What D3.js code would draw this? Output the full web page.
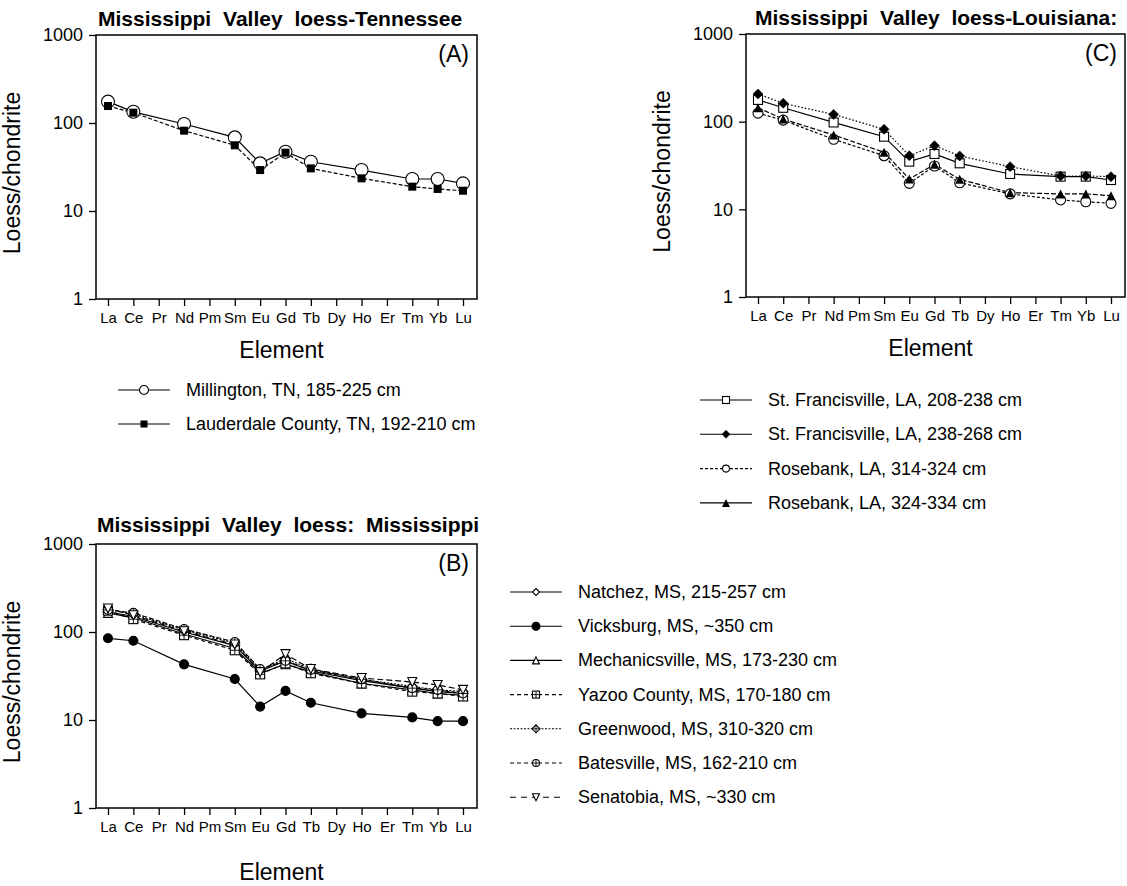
<!DOCTYPE html>
<html>
<head>
<meta charset="utf-8">
<script src="https://cdn.jsdelivr.net/npm/d3@7"></script>
<style>
  html, body { margin: 0; padding: 0; background: #fff; }
  svg { display: block; font-family: "Liberation Sans", Arial, Helvetica, sans-serif; }
</style>
</head>
<body>
<svg id="chart" width="1127" height="886"></svg>
<script>
// ---------------- DATA ----------------
const elements = ["La","Ce","Pr","Nd","Pm","Sm","Eu","Gd","Tb","Dy","Ho","Er","Tm","Yb","Lu"];
const measured = ["La","Ce","Nd","Sm","Eu","Gd","Tb","Ho","Tm","Yb","Lu"];
const yTickValues = [1, 10, 100, 1000];

// Panel A – Tennessee
const millington  = [175, 134, 97.5, 68.7, 34.8, 47.2, 36.3, 29.2, 23.1, 23.1, 20.6];
const lauderdale  = [156, 131, 81.8, 55.8, 29.2, 46.0, 30.5, 23.5, 18.9, 17.8, 17.0];

// Panel C – Louisiana
const stFrancisville208 = [177, 144, 98, 67.4, 35.0, 42.8, 33.5, 25.3, 23.6, 23.6, 21.6];
const stFrancisville238 = [207, 162, 121, 81.8, 40.9, 53.2, 40.6, 30.7, 24.0, 24.0, 23.6];
const rosebank314       = [125, 104, 62.9, 40.9, 19.8, 31.2, 20.1, 15.0, 12.8, 12.2, 11.7];
const rosebank324       = [144, 107, 70.4, 44.7, 22.2, 32.6, 22.0, 15.5, 15.0, 15.0, 14.3];

// Panel B – Mississippi
const natchez        = [170, 150, 100, 70, 36, 47, 36, 28, 23, 21, 20];
const vicksburg      = [84.8, 79.6, 42.9, 29.2, 14.2, 21.4, 15.7, 11.9, 10.7, 9.7, 9.7];
const mechanicsville = [165, 145, 95, 65, 34, 43, 35, 26, 22, 20, 19];
const yazoo          = [175, 140, 92, 62, 33, 44, 34, 26, 21, 20, 18.5];
const greenwood      = [180, 160, 105, 75, 37, 50, 38, 29, 24, 22, 21];
const batesville     = [178, 165, 108, 77, 38, 47, 37, 29, 23, 22, 20];
const senatobia      = [185, 155, 102, 72, 35, 56, 38, 30, 27, 25, 22];

const titles = ["Mississippi Valley loess-Tennessee", "Mississippi Valley loess-Louisiana:", "Mississippi Valley loess: Mississippi"];
const panelTags = ["(A)", "(C)", "(B)"];
const labelsA = ["Millington, TN, 185-225 cm", "Lauderdale County, TN, 192-210 cm"];
const labelsC = ["St. Francisville, LA, 208-238 cm", "St. Francisville, LA, 238-268 cm", "Rosebank, LA, 314-324 cm", "Rosebank, LA, 324-334 cm"];
const labelsB = ["Natchez, MS, 215-257 cm", "Vicksburg, MS, ~350 cm", "Mechanicsville, MS, 173-230 cm", "Yazoo County, MS, 170-180 cm", "Greenwood, MS, 310-320 cm", "Batesville, MS, 162-210 cm", "Senatobia, MS, ~330 cm"];

// ---------------- STYLES / LAYOUT ----------------
const svg = d3.select("#chart");

function marker(g, type, x, y, s) {
  const t = g.append("g").attr("transform", `translate(${x},${y})`);
  const sw = 1.1;
  switch (type) {
    case "circleOpen":   t.append("circle").attr("r", s/2).attr("fill", "#fff").attr("stroke", "#000").attr("stroke-width", sw); break;
    case "circleFilled": t.append("circle").attr("r", s/2).attr("fill", "#000").attr("stroke", "#000").attr("stroke-width", sw); break;
    case "squareOpen":   t.append("rect").attr("x", -s/2).attr("y", -s/2).attr("width", s).attr("height", s).attr("fill", "#fff").attr("stroke", "#000").attr("stroke-width", sw); break;
    case "squareFilled": t.append("rect").attr("x", -s/2).attr("y", -s/2).attr("width", s).attr("height", s).attr("fill", "#000"); break;
    case "diamondFilled": t.append("path").attr("d", `M0,${-s/2}L${s/2},0L0,${s/2}L${-s/2},0Z`).attr("fill", "#000").attr("stroke", "#000").attr("stroke-width", 0.6); break;
    case "diamondOpen":  t.append("path").attr("d", `M0,${-s/2}L${s/2},0L0,${s/2}L${-s/2},0Z`).attr("fill", "#fff").attr("stroke", "#000").attr("stroke-width", sw); break;
    case "triangleFilled": t.append("path").attr("d", `M0,${-s/2}L${s/2},${s/2}L${-s/2},${s/2}Z`).attr("fill", "#000"); break;
    case "triangleOpen": t.append("path").attr("d", `M0,${-s/2}L${s/2},${s/2}L${-s/2},${s/2}Z`).attr("fill", "#fff").attr("stroke", "#000").attr("stroke-width", sw); break;
    case "triangleDownOpen": t.append("path").attr("d", `M0,${s/2}L${s/2},${-s/2}L${-s/2},${-s/2}Z`).attr("fill", "#fff").attr("stroke", "#000").attr("stroke-width", sw); break;
    case "squarePlus":
      t.append("rect").attr("x", -s/2).attr("y", -s/2).attr("width", s).attr("height", s).attr("fill", "#fff").attr("stroke", "#000").attr("stroke-width", sw);
      t.append("path").attr("d", `M${-s/2},0H${s/2}M0,${-s/2}V${s/2}`).attr("stroke", "#000").attr("stroke-width", 0.9); break;
    case "diamondPlus":
      t.append("path").attr("d", `M0,${-s/2}L${s/2},0L0,${s/2}L${-s/2},0Z`).attr("fill", "#fff").attr("stroke", "#000").attr("stroke-width", sw);
      t.append("path").attr("d", `M${-s/2},0H${s/2}M0,${-s/2}V${s/2}`).attr("stroke", "#000").attr("stroke-width", 0.9); break;
    case "circlePlus":
      t.append("circle").attr("r", s/2).attr("fill", "#fff").attr("stroke", "#000").attr("stroke-width", sw);
      t.append("path").attr("d", `M${-s/2},0H${s/2}M0,${-s/2}V${s/2}`).attr("stroke", "#000").attr("stroke-width", 0.9); break;
  }
}

function panel(cfg) {
  const g = svg.append("g");
  const x = d3.scalePoint().domain(elements).range([cfg.left + 12, cfg.right - 14]);
  const y = d3.scaleLog().domain([1, 1000]).range([cfg.bottom, cfg.top]);

  // axes
  const ya = g.append("g").attr("transform", `translate(${cfg.left},0)`)
    .call(d3.axisLeft(y).tickValues(yTickValues).tickFormat(d3.format("d")).tickSize(7).tickPadding(6));
  ya.select(".domain").remove();
  ya.selectAll("line").attr("stroke", "#000").attr("stroke-width", 1.3);
  ya.selectAll("text").attr("font-size", 18).attr("fill", "#000").attr("font-family", "Liberation Sans, Arial, sans-serif");

  const xa = g.append("g").attr("transform", `translate(0,${cfg.bottom})`)
    .call(d3.axisBottom(x).tickSize(7).tickPadding(6));
  xa.select(".domain").remove();
  xa.selectAll("line").attr("stroke", "#000").attr("stroke-width", 1.3);
  xa.selectAll("text").attr("font-size", 15).attr("fill", "#000").attr("font-family", "Liberation Sans, Arial, sans-serif");

  g.append("rect").attr("x", cfg.left).attr("y", cfg.top)
    .attr("width", cfg.right - cfg.left).attr("height", cfg.bottom - cfg.top)
    .attr("fill", "none").attr("stroke", "#000").attr("stroke-width", 1.5);

  // titles
  g.append("text").attr("x", cfg.titleX).attr("y", cfg.titleY)
    .attr("font-size", 21).attr("font-weight", "bold").style("word-spacing", "6px")
    .text(cfg.title);
  g.append("text").attr("x", cfg.right - 8).attr("y", cfg.top + 27)
    .attr("text-anchor", "end").attr("font-size", 23).text(cfg.tag);
  g.append("text").attr("transform", `translate(${cfg.left - 76},${(cfg.top + cfg.bottom) / 2 + 6}) rotate(-90)`)
    .attr("text-anchor", "middle").attr("font-size", 23).text("Loess/chondrite");
  g.append("text").attr("x", (cfg.left + cfg.right) / 2 - 5).attr("y", cfg.bottom + cfg.elemDy)
    .attr("text-anchor", "middle").attr("font-size", 23).text("Element");

  // series
  const line = d3.line().x(d => x(d[0])).y(d => y(d[1]));
  cfg.series.forEach(s => {
    const pts = measured.map((e, i) => [e, s.values[i]]);
    g.append("path").datum(pts).attr("d", line)
      .attr("fill", "none").attr("stroke", "#000").attr("stroke-width", 1.2)
      .attr("stroke-dasharray", s.dash || null);
  });
  cfg.series.forEach(s => {
    measured.forEach((e, i) => marker(g, s.marker, x(e), y(s.values[i]), s.size));
  });

  // legend
  cfg.series.forEach((s, i) => {
    const ly = cfg.legY + i * cfg.legStep;
    g.append("line").attr("x1", cfg.legX).attr("x2", cfg.legX + 52).attr("y1", ly).attr("y2", ly)
      .attr("stroke", "#000").attr("stroke-width", 1.1).attr("stroke-dasharray", s.legDash || null);
    marker(g, s.marker, cfg.legX + 26, ly, s.legSize);
    g.append("text").attr("x", cfg.legX + 68).attr("y", ly + 6).attr("font-size", 18).text(cfg.labels[i]);
  });
}

panel({
  left: 96, right: 477, top: 35, bottom: 299, title: titles[0], titleX: 98, titleY: 26, tag: panelTags[0], elemDy: 59,
  legX: 118, legY: 390, legStep: 34, labels: labelsA,
  series: [
    { values: millington, marker: "circleOpen", size: 13, legSize: 9 },
    { values: lauderdale, marker: "squareFilled", size: 8, dash: "4,2", legSize: 7 }
  ]
});

panel({
  left: 746, right: 1125, top: 34, bottom: 297, title: titles[1], titleX: 755, titleY: 25, tag: panelTags[1], elemDy: 59,
  legX: 700, legY: 400, legStep: 34.3, labels: labelsC,
  series: [
    { values: stFrancisville208, marker: "squareOpen", size: 9, legSize: 7 },
    { values: stFrancisville238, marker: "diamondFilled", size: 10, dash: "1.5,2", legSize: 8 },
    { values: rosebank314, marker: "circleOpen", size: 10, dash: "3,2", legDash: "3,2", legSize: 7 },
    { values: rosebank324, marker: "triangleFilled", size: 9, dash: "5,2", legSize: 8 }
  ]
});

panel({
  left: 96, right: 477, top: 544, bottom: 808, title: titles[2], titleX: 97, titleY: 532, tag: panelTags[2], elemDy: 72,
  legX: 510, legY: 592, legStep: 34.2, labels: labelsB,
  series: [
    { values: natchez, marker: "diamondOpen", size: 10, legSize: 7 },
    { values: vicksburg, marker: "circleFilled", size: 9, legSize: 8 },
    { values: mechanicsville, marker: "triangleOpen", size: 9, legSize: 7 },
    { values: yazoo, marker: "squarePlus", size: 9, dash: "4,3", legDash: "4,3", legSize: 7 },
    { values: greenwood, marker: "diamondPlus", size: 10, dash: "2,1.5", legDash: "2,1.5", legSize: 8 },
    { values: batesville, marker: "circlePlus", size: 9, dash: "5,2", legDash: "4,3", legSize: 7 },
    { values: senatobia, marker: "triangleDownOpen", size: 9, dash: "6,3", legDash: "6,5", legSize: 7 }
  ]
});
</script>
</body>
</html>
